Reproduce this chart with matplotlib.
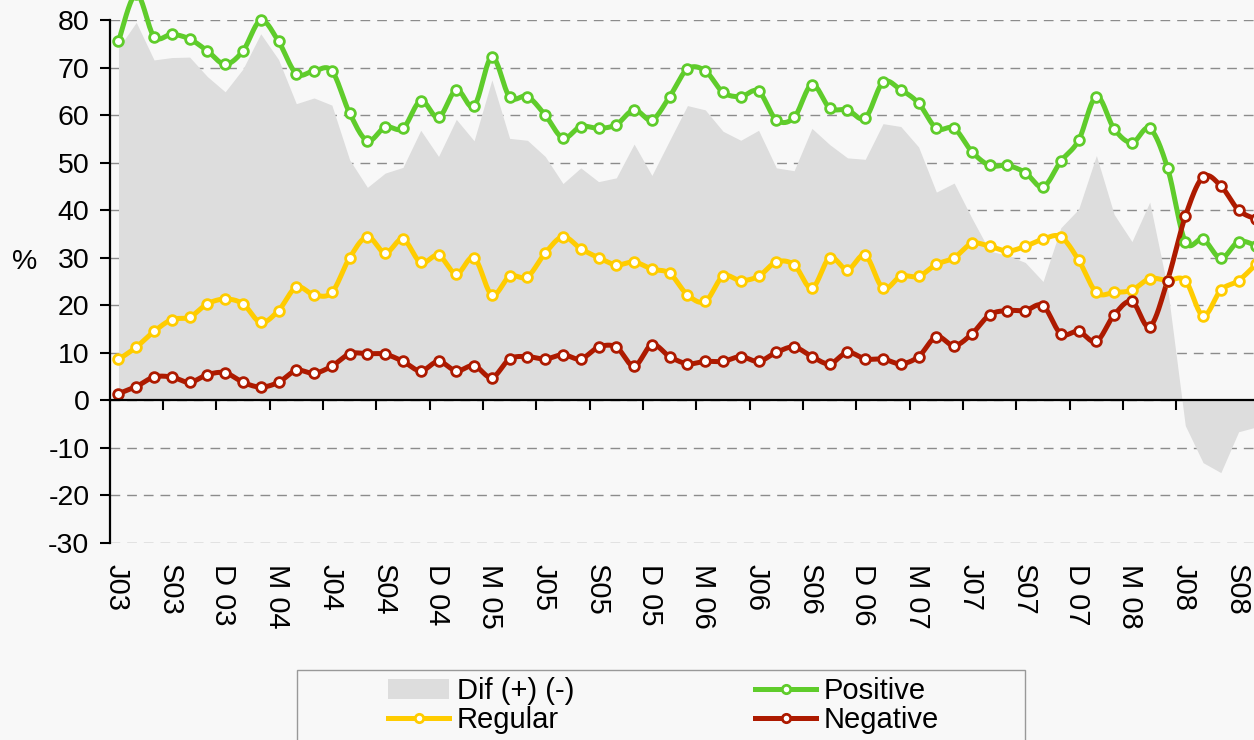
import numpy as np
import matplotlib
matplotlib.use("Agg")
import matplotlib.pyplot as plt
import matplotlib.transforms as mtransforms
from matplotlib.lines import Line2D
from matplotlib.patches import Patch, Rectangle

# quarterly labels, one every 3 months starting June 2003
tick_labels = ["J03", "S03", "D 03", "M 04", "J04", "S04", "D 04", "M 05",
               "J05", "S05", "D 05", "M 06", "J06", "S06", "D 06", "M 07",
               "J07", "S07", "D 07", "M 08", "J08", "S08"]

# monthly values (%), June 2003 - October 2008
positive = [75.5, 85.5, 76.5, 77.0, 76.0, 73.5, 70.7, 73.5, 79.9, 75.5,
            68.7, 69.3, 69.3, 60.4, 54.6, 57.5, 57.2, 63.0, 59.5, 65.3,
            61.9, 72.2, 63.8, 63.9, 60.0, 55.2, 57.6, 57.2, 58.0, 61.1,
            59.0, 63.9, 69.7, 69.3, 64.8, 63.9, 65.0, 59.0, 59.5, 66.4,
            61.5, 61.1, 59.4, 66.9, 65.3, 62.5, 57.2, 57.2, 52.3, 49.4,
            49.4, 47.9, 44.9, 50.3, 54.7, 63.9, 57.1, 54.2, 57.2, 48.9,
            33.4, 33.9, 29.9, 33.4, 32.5]
regular = [8.6, 11.2, 14.5, 17.0, 17.5, 20.3, 21.3, 20.3, 16.4, 18.9,
           23.8, 22.2, 22.7, 30.0, 34.4, 31.0, 33.9, 29.0, 30.5, 26.6,
           30.0, 22.2, 26.1, 26.0, 31.0, 34.4, 31.9, 30.0, 28.5, 29.1,
           27.6, 26.7, 22.2, 20.8, 26.1, 25.2, 26.1, 29.1, 28.5, 23.6,
           30.0, 27.5, 30.5, 23.6, 26.1, 26.1, 28.6, 30.0, 33.0, 32.4,
           31.4, 32.4, 33.9, 34.4, 29.5, 22.7, 22.7, 23.2, 25.6, 25.2,
           25.2, 17.8, 23.2, 25.2, 28.7]
negative = [1.4, 2.9, 4.9, 4.9, 3.8, 5.4, 5.8, 3.8, 2.8, 3.8,
            6.3, 5.7, 7.2, 9.8, 9.8, 9.7, 8.2, 6.2, 8.2, 6.2,
            7.3, 4.8, 8.7, 9.2, 8.7, 9.6, 8.7, 11.2, 11.2, 7.2,
            11.7, 9.2, 7.7, 8.2, 8.2, 9.2, 8.2, 10.1, 11.2, 9.2,
            7.7, 10.1, 8.7, 8.7, 7.7, 9.2, 13.4, 11.5, 14.0, 18.0,
            18.9, 18.9, 19.9, 14.0, 14.5, 12.4, 18.0, 20.8, 15.5, 25.2,
            38.7, 47.0, 45.1, 40.0, 38.1]
# shaded area: positive minus negative
dif = [p - n for p, n in zip(positive, negative)]
dif[1] = 79.5  # the shaded peak sits lower than the smoothed line here

GREEN = "#5FCC2B"
YELLOW = "#FFCC00"
RED = "#AD1A00"
AREA = "#DDDDDD"
BG = "#F8F8F8"

plt.rcParams["font.family"] = ["Liberation Sans", "DejaVu Sans"]
plt.rcParams["axes.unicode_minus"] = False


def smooth(ys, n=20):
    # Excel-like smoothed line: cubic Bezier through the points
    y = np.asarray(ys, float)
    x = np.arange(len(y), dtype=float)
    ex = np.r_[x[0], x, x[-1]]
    ey = np.r_[y[0], y, y[-1]]
    t = np.linspace(0, 1, n, endpoint=False)
    out_x, out_y = [], []
    for i in range(len(y) - 1):
        p0 = np.array([ex[i], ey[i]])
        p1 = np.array([ex[i + 1], ey[i + 1]])
        p2 = np.array([ex[i + 2], ey[i + 2]])
        p3 = np.array([ex[i + 3], ey[i + 3]])
        c1 = p1 + (p2 - p0) / 6
        c2 = p2 - (p3 - p1) / 6
        b = ((1 - t) ** 3)[:, None] * p1 + (3 * (1 - t) ** 2 * t)[:, None] * c1 \
            + (3 * (1 - t) * t ** 2)[:, None] * c2 + (t ** 3)[:, None] * p2
        out_x.extend(b[:, 0])
        out_y.extend(b[:, 1])
    out_x.append(x[-1])
    out_y.append(y[-1])
    return np.array(out_x), np.array(out_y)


W, H = 1254, 740
step = 17.78
fig = plt.figure(figsize=(W / 100, H / 100), dpi=100, facecolor=BG)
ax = fig.add_axes([109.6 / W, 1 - 543 / H, 65 * step / W, 523 / H])
ax.set_facecolor(BG)

x = np.arange(len(positive))
ax.set_xlim(-0.5, 64.5)
ax.set_ylim(-30, 80)

ax.fill_between(x, dif, 0, color=AREA, lw=0, zorder=1)

MS, MEW = 7, 2.0
for series, col in [(positive, GREEN), (regular, YELLOW), (negative, RED)]:
    sx, sy = smooth(series)
    ax.plot(sx, sy, color=col, lw=3.6, solid_capstyle="round", zorder=3, clip_on=False)
    ax.plot(x, series, "o", ms=MS, mfc="white", mec=col, mew=MEW, zorder=4, clip_on=False)

# axes styling
for side in ["top", "right"]:
    ax.spines[side].set_visible(False)
ax.spines["bottom"].set_position(("data", 0))
ax.spines["bottom"].set_linewidth(1.6)
ax.spines["left"].set_linewidth(1.6)
ax.spines["bottom"].set_zorder(5)

ax.set_yticks(np.arange(-30, 81, 10))
ax.tick_params(axis="y", length=7.5, width=1.5, labelsize=20.5, pad=7)
ax.set_xticks(np.arange(2.5, 64, 3))
ax.tick_params(axis="x", direction="out", length=7.5, width=1.5, labelbottom=False)

ax.yaxis.grid(True, color="#8c8c8c", linestyle=(0, (7, 5)), lw=1)
ax.set_axisbelow(True)

trans = mtransforms.blended_transform_factory(ax.transData, fig.transFigure)
for k, lab in enumerate(tick_labels):
    ax.text(3 * k - 0.1, 1 - 564 / H, lab, rotation=270, ha="center", va="top",
            fontsize=21, transform=trans)

fig.text(25 / W, 1 - 262 / H, "%", ha="center", va="center", fontsize=20.5)

# legend box + two columns
fig.patches.append(Rectangle((297 / W, 1 - 752 / H), 728 / W, 82 / H,
                             transform=fig.transFigure, fill=False,
                             edgecolor="#999999", lw=1))


def line_handle(col, label):
    return Line2D([], [], color=col, lw=3.6, marker="o", ms=MS - 1, mfc="white",
                  mec=col, mew=MEW, label=label)


leg_kw = dict(loc="upper left", frameon=False, borderpad=0, borderaxespad=0,
              handlelength=2.1, handletextpad=0.25, labelspacing=0.05, fontsize=21)
fig.legend(handles=[Patch(facecolor=AREA, label="Dif (+) (-)"),
                    line_handle(YELLOW, "Regular")],
           bbox_to_anchor=(388 / W, 1 - 677 / H), **leg_kw)
fig.legend(handles=[line_handle(GREEN, "Positive"), line_handle(RED, "Negative")],
           bbox_to_anchor=(755 / W, 1 - 677 / H), **leg_kw)

fig.savefig("out.png", dpi=100, facecolor=BG)
